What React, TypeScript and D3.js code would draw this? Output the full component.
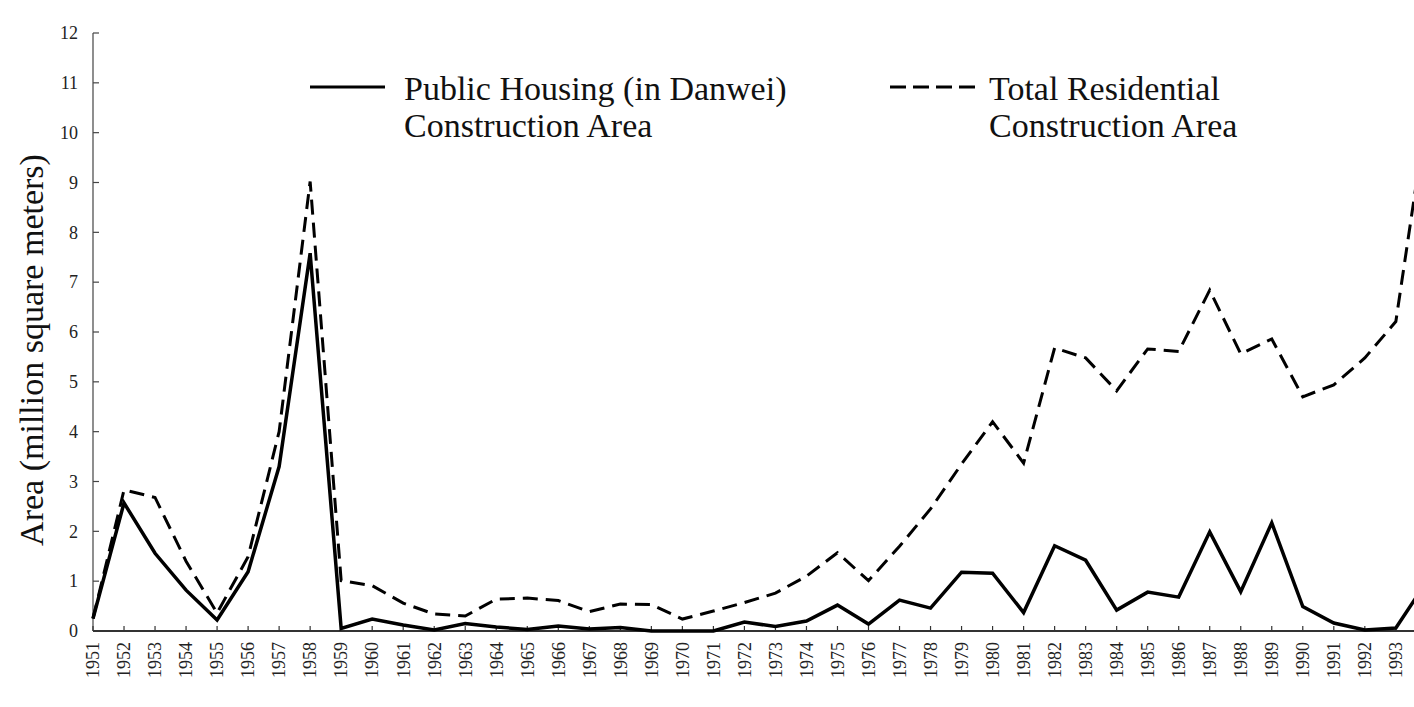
import React from "react";
import * as d3 from "d3";

const years: number[] = [
  1951, 1952, 1953, 1954, 1955, 1956, 1957, 1958, 1959, 1960, 1961, 1962, 1963, 1964, 1965,
  1966, 1967, 1968, 1969, 1970, 1971, 1972, 1973, 1974, 1975, 1976, 1977, 1978, 1979, 1980,
  1981, 1982, 1983, 1984, 1985, 1986, 1987, 1988, 1989, 1990, 1991, 1992, 1993, 1994,
];

const publicHousing: number[] = [
  0.25, 2.57, 1.56, 0.82, 0.22, 1.19, 3.3, 7.58, 0.05, 0.24, 0.12, 0.02, 0.15, 0.08, 0.03,
  0.1, 0.04, 0.07, 0.0, 0.0, 0.0, 0.18, 0.09, 0.2, 0.52, 0.14, 0.62, 0.46, 1.18, 1.16,
  0.37, 1.71, 1.42, 0.42, 0.78, 0.68, 1.99, 0.79, 2.17, 0.49, 0.16, 0.02, 0.06, 1.0,
];

const totalResidential: number[] = [
  0.25, 2.83, 2.68, 1.4, 0.36, 1.49, 4.0, 9.02, 1.01, 0.91, 0.56, 0.34, 0.3, 0.64, 0.66,
  0.61, 0.39, 0.54, 0.53, 0.24, 0.4, 0.57, 0.76, 1.1, 1.57, 1.01, 1.7, 2.45, 3.35, 4.2,
  3.37, 5.68, 5.48, 4.82, 5.66, 5.61, 6.84, 5.56, 5.86, 4.7, 4.94, 5.48, 6.21, 10.4,
];

const yTicks: number[] = [0, 1, 2, 3, 4, 5, 6, 7, 8, 9, 10, 11, 12];
const xTickYears: number[] = years.slice(0, 43);

const legendSolid: string[] = ["Public Housing (in Danwei)", "Construction Area"];
const legendDashed: string[] = ["Total Residential", "Construction Area"];
const yTitle = "Area (million square meters)";

const W = 1414;
const H = 707;

export default function App() {
  const x = d3.scaleLinear().domain([1951, 1994]).range([93, 93 + 43 * 31.02]);
  const y = d3.scaleLinear().domain([0, 12]).range([631, 33]);

  const line = d3
    .line<[number, number]>()
    .x((d) => x(d[0]))
    .y((d) => y(d[1]));

  const solidPath = line(years.map((yr, i) => [yr, publicHousing[i]] as [number, number])) || "";
  const dashedPath = line(years.map((yr, i) => [yr, totalResidential[i]] as [number, number])) || "";

  const tickFont = "'Liberation Serif', 'DejaVu Serif', serif";
  const legendFont = "'Liberation Serif', serif";

  return (
    <svg
      width={W}
      height={H}
      style={{ position: "absolute", left: 0, top: 0, background: "#fff" }}
    >
      <defs>
        <clipPath id="plotclip">
          <rect x={0} y={0} width={W} height={H} />
        </clipPath>
      </defs>
      <rect x={0} y={0} width={W} height={H} fill="#fff" />

      {/* Y axis */}
      <line x1={x(1951)} x2={x(1951)} y1={y(12)} y2={y(0)} stroke="#444" strokeWidth={1.2} />
      {yTicks.map((t) => (
        <g key={"yt" + t}>
          <line x1={x(1951)} x2={x(1951) + 6} y1={y(t)} y2={y(t)} stroke="#444" strokeWidth={1.2} />
          <text
            x={78}
            y={y(t)}
            dy="0.35em"
            textAnchor="end"
            fontFamily={tickFont}
            fontSize={18}
            fill="#222"
          >
            {t}
          </text>
        </g>
      ))}

      {/* X axis */}
      <line x1={x(1951)} x2={W} y1={y(0)} y2={y(0)} stroke="#333" strokeWidth={2} />
      {xTickYears.map((yr) => (
        <g key={"xt" + yr}>
          <line x1={x(yr)} x2={x(yr)} y1={y(0)} y2={y(0) - 5} stroke="#333" strokeWidth={1.2} />
          <text
            transform={`translate(${x(yr)},${y(0) + 11}) rotate(-90)`}
            dy="0.35em"
            textAnchor="end"
            fontFamily={tickFont}
            fontSize={18}
            fill="#222"
          >
            {yr}
          </text>
        </g>
      ))}

      {/* Y axis title */}
      <text
        transform={`translate(43,350) rotate(-90)`}
        textAnchor="middle"
        fontFamily={legendFont}
        fontSize={34}
        fill="#111"
      >
        {yTitle}
      </text>

      {/* Data lines */}
      <g clipPath="url(#plotclip)">
        <path d={dashedPath} fill="none" stroke="#000" strokeWidth={3} strokeDasharray="15 8" strokeLinejoin="miter" />
        <path d={solidPath} fill="none" stroke="#000" strokeWidth={3.5} strokeLinejoin="miter" />
      </g>

      {/* Legend */}
      <line x1={310} x2={385} y1={87} y2={87} stroke="#000" strokeWidth={3} />
      {legendSolid.map((s, i) => (
        <text key={"ls" + i} x={404} y={100 + i * 37} fontFamily={legendFont} fontSize={34} fill="#111">
          {s}
        </text>
      ))}
      <line x1={890} x2={975} y1={87} y2={87} stroke="#000" strokeWidth={3} strokeDasharray="16 7" />
      {legendDashed.map((s, i) => (
        <text key={"ld" + i} x={989} y={100 + i * 37} fontFamily={legendFont} fontSize={34} fill="#111">
          {s}
        </text>
      ))}
    </svg>
  );
}
